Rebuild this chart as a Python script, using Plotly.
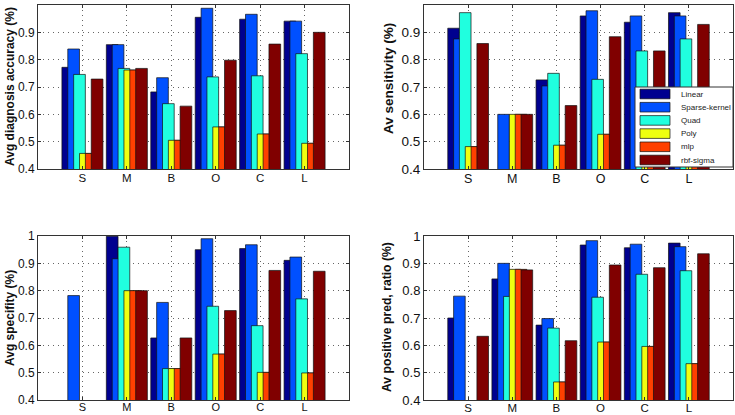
import plotly.graph_objects as go

categories = ["S", "M", "B", "O", "C", "L"]
series_names = ["Linear", "Sparse-kernel", "Quad", "Poly", "mlp", "rbf-sigma"]
series_colors = ["#00008F", "#0050FF", "#20FFDF", "#EFFF10", "#FF4000", "#800000"]

# Avg diagnosis accuracy (%)  -- per series, categories S M B O C L
accuracy_linear = [0.772, 0.855, 0.682, 0.955, 0.948, 0.941]
accuracy_sparse = [0.839, 0.855, 0.734, 0.988, 0.966, 0.941]
accuracy_quad = [0.746, 0.768, 0.639, 0.737, 0.741, 0.822]
accuracy_poly = [0.457, 0.762, 0.505, 0.554, 0.528, 0.494]
accuracy_mlp = [0.457, 0.762, 0.505, 0.554, 0.528, 0.494]
accuracy_rbf = [0.729, 0.768, 0.630, 0.798, 0.857, 0.900]

# Av sensitivity (%)
sensitivity_linear = [0.915, None, 0.726, 0.960, 0.937, 0.972]
sensitivity_sparse = [0.876, 0.600, 0.704, 0.979, 0.960, 0.960]
sensitivity_quad = [0.972, None, 0.750, 0.728, 0.832, 0.876]
sensitivity_poly = [0.482, 0.600, 0.487, 0.527, 0.520, 0.500]
sensitivity_mlp = [0.482, 0.600, 0.487, 0.527, 0.520, 0.500]
sensitivity_rbf = [0.859, 0.600, 0.632, 0.884, 0.832, 0.929]

# Avg specifity (%)
specificity_linear = [None, 0.999, 0.627, 0.950, 0.954, 0.911]
specificity_sparse = [0.782, 0.917, 0.757, 0.990, 0.968, 0.923]
specificity_quad = [None, 0.959, 0.515, 0.743, 0.672, 0.770]
specificity_poly = [None, 0.800, 0.515, 0.568, 0.501, 0.499]
specificity_mlp = [None, 0.800, 0.515, 0.568, 0.501, 0.499]
specificity_rbf = [None, 0.800, 0.627, 0.727, 0.874, 0.871]

# Av positive pred, ratio (%)
ppv_linear = [0.700, 0.843, 0.674, 0.967, 0.957, 0.974]
ppv_sparse = [0.780, 0.900, 0.698, 0.983, 0.970, 0.961]
ppv_quad = [None, 0.779, 0.663, 0.776, 0.860, 0.873]
ppv_poly = [None, 0.878, 0.466, 0.612, 0.596, 0.533]
ppv_mlp = [None, 0.878, 0.466, 0.612, 0.596, 0.533]
ppv_rbf = [0.633, 0.876, 0.617, 0.894, 0.884, 0.935]

y_tick_vals = [0.4, 0.5, 0.6, 0.7, 0.8, 0.9, 1.0]
y_tick_text = ["0.4", "0.5", "0.6", "0.7", "0.8", "0.9", "1"]

panels = [
    ("Avg diagnosis accuracy (%)",
     [accuracy_linear, accuracy_sparse, accuracy_quad, accuracy_poly, accuracy_mlp, accuracy_rbf]),
    ("Av sensitivity (%)",
     [sensitivity_linear, sensitivity_sparse, sensitivity_quad, sensitivity_poly, sensitivity_mlp, sensitivity_rbf]),
    ("Avg specifity (%)",
     [specificity_linear, specificity_sparse, specificity_quad, specificity_poly, specificity_mlp, specificity_rbf]),
    ("Av positive pred, ratio (%)",
     [ppv_linear, ppv_sparse, ppv_quad, ppv_poly, ppv_mlp, ppv_rbf]),
]

W, H = 735, 415
# panel frames in pixels: (left, right, top, bottom)
frames = [(38, 349, 5, 169), (424, 733, 5, 169), (38, 349, 236, 400), (424, 733, 236, 400)]
title_pos = [(10, 87), (388, 79), (10, 318), (387, 317)]
ytick_sizes = [12, 13.5, 12, 13]
xtick_sizes = [11.5, 12.5, 11, 11.5]
xtick_standoff = [-2, -2, -3, -3]
title_sizes = [12, 13.5, 12, 12.2]

BAR_STEP = 0.132
BAR_W = 0.263

fig = go.Figure()
FONT = "Liberation Sans, Arial, sans-serif"

for p, (title, series) in enumerate(panels):
    ax = "" if p == 0 else str(p + 1)
    for i, vals in enumerate(series):
        fig.add_trace(go.Bar(
            x=categories, y=vals, name=series_names[i],
            xaxis="x" + ax, yaxis="y" + ax,
            offset=(i - 2.5) * BAR_STEP - BAR_W / 2, width=BAR_W,
            marker=dict(color=series_colors[i], line=dict(color="#111", width=0.7)),
            showlegend=False,
        ))
    l, r, t, b = frames[p]
    common = dict(showline=True, linecolor="#333", linewidth=1, mirror="ticks",
                  ticks="inside", ticklen=3, tickcolor="#333", automargin=False,
                  showgrid=True, gridcolor="#666", griddash="1px,4px", gridwidth=1,
                  zeroline=False)
    fig.layout["xaxis" + ax] = dict(domain=[l / W, r / W], anchor="y" + ax,
                                    type="category", range=[-1, 6],
                                    ticklabelstandoff=xtick_standoff[p],
                                    tickfont=dict(family=FONT, size=xtick_sizes[p], color="#111"),
                                    **common)
    fig.layout["yaxis" + ax] = dict(domain=[1 - b / H, 1 - t / H], anchor="x" + ax,
                                    range=[0.4, 1.0], tickvals=y_tick_vals, ticktext=y_tick_text,
                                    tickfont=dict(family=FONT, size=ytick_sizes[p], color="#111"),
                                    **common)
    tx, ty = title_pos[p]
    fig.add_annotation(text="<b>" + title + "</b>", xref="paper", yref="paper",
                       x=tx / W, y=1 - ty / H, textangle=-90,
                       showarrow=False, font=dict(family=FONT, size=title_sizes[p], color="#111"),
                       xanchor="center", yanchor="middle")

# manual legend (MATLAB style) in top-right panel
lg_l, lg_r, lg_t, lg_b = 635, 733, 87, 167
fig.add_shape(type="rect", xref="paper", yref="paper",
              x0=lg_l / W, x1=lg_r / W, y0=1 - lg_b / H, y1=1 - lg_t / H,
              fillcolor="white", line=dict(color="#333", width=1), layer="above")
for i, name in enumerate(series_names):
    cy = 94 + 13.2 * i
    fig.add_shape(type="rect", xref="paper", yref="paper",
                  x0=640 / W, x1=670 / W, y0=1 - (cy + 4.8) / H, y1=1 - (cy - 4.8) / H,
                  fillcolor=series_colors[i], line=dict(color="#111", width=0.7), layer="above")
    fig.add_annotation(text=name, xref="paper", yref="paper", x=679 / W, y=1 - cy / H,
                       xanchor="left", yanchor="middle", showarrow=False,
                       font=dict(family=FONT, size=8, color="#222"))

fig.update_layout(width=W, height=H, margin=dict(l=0, r=0, t=0, b=0, autoexpand=False),
                  paper_bgcolor="white", plot_bgcolor="white", barmode="overlay",
                  showlegend=False)

fig.write_html("out.html", config={"displayModeBar": False},
               post_script="document.body.style.margin='0';document.body.style.padding='0';"
                           "document.body.style.overflow='hidden';")
